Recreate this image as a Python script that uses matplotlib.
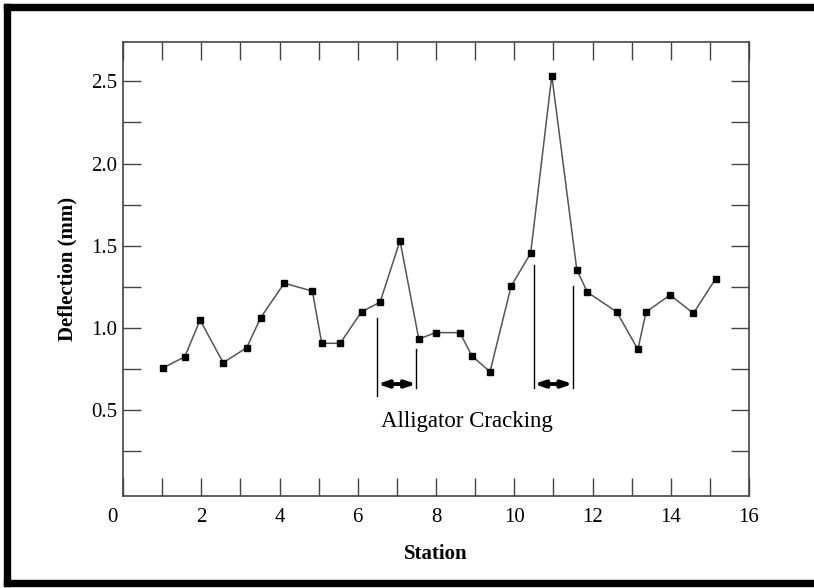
import matplotlib
matplotlib.use("Agg")
import matplotlib.pyplot as plt
import matplotlib.transforms as mtransforms
from matplotlib.patches import Rectangle
import numpy as np

# ---- data ----
station = [1.03, 1.58, 1.97, 2.56, 3.16, 3.52, 4.12, 4.84, 5.08, 5.55,
           6.10, 6.57, 7.08, 7.56, 7.99, 8.61, 8.92, 9.38, 9.92, 10.42,
           10.96, 11.60, 11.87, 12.62, 13.16, 13.37, 13.98, 14.58, 15.15]
deflection = [0.756, 0.823, 1.047, 0.787, 0.878, 1.061, 1.271, 1.223, 0.905, 0.905,
              1.098, 1.155, 1.530, 0.931, 0.970, 0.970, 0.827, 0.732, 1.253, 1.454,
              2.535, 1.352, 1.216, 1.096, 0.868, 1.096, 1.199, 1.088, 1.299]

# cracking zones: (start, end) in station units
zone_x = [(6.5, 7.5), (10.5, 11.5)]
zone_left_y = [(1.059, 0.584), (1.38, 0.632)]
zone_right_y = [(0.870, 0.632), (1.254, 0.632)]
arrow_y = 0.657
annot_text = "Alligator Cracking"
annot_pos = (8.79, 0.431)

xticks_major = [0, 2, 4, 6, 8, 10, 12, 14, 16]
xticks_minor = [1, 3, 5, 7, 9, 11, 13, 15]
yticks_major = [0.5, 1.0, 1.5, 2.0, 2.5]
yticks_minor = [0.25, 0.75, 1.25, 1.75, 2.25]

plt.rcParams['font.family'] = ['Liberation Serif', 'DejaVu Serif']

W, H = 814, 588
fig = plt.figure(figsize=(W / 100, H / 100), dpi=100)
ax = fig.add_axes([123 / W, 1 - 496 / H, (749 - 123) / W, (496 - 42) / H])

frame_col = '#444444'
ax.plot(station, deflection, color='#555555', lw=1.1, marker='s', ms=5,
        mfc='black', mec='black', zorder=3)

for (x0, x1), ly, ry in zip(zone_x, zone_left_y, zone_right_y):
    ax.plot([x0, x0], ly, color='black', lw=1.0)
    ax.plot([x1, x1], ry, color='black', lw=1.0)
    ax.annotate('', xy=(x1, arrow_y), xytext=(x0, arrow_y),
                arrowprops=dict(arrowstyle='<|-|>,head_length=0.6,head_width=0.2',
                                color='black', lw=2.8, shrinkA=0, shrinkB=0))

ax.text(annot_pos[0], annot_pos[1], annot_text, ha='center', va='center', fontsize=16.5)

ax.set_xlim(0, 16)
ax.set_ylim(-0.025, 2.74)
ax.set_xticks(xticks_major)
ax.set_xticks(xticks_minor, minor=True)
ax.set_yticks(yticks_major)
ax.set_yticks(yticks_minor, minor=True)
ax.set_xticklabels([str(v) for v in xticks_major])
ax.set_yticklabels([f"{v:.1f}" for v in yticks_major])

ax.tick_params(which='both', direction='in', length=13, width=1.0, color=frame_col,
               top=True, right=True, labelsize=15)
ax.tick_params(axis='x', which='both', pad=9)
ax.tick_params(axis='y', which='both', pad=4)
for s in ax.spines.values():
    s.set_color(frame_col)
    s.set_linewidth(1.2)

# first x label ("0") sits a bit left in the original
lbl0 = ax.get_xticklabels()[0]
lbl0.set_transform(lbl0.get_transform() + mtransforms.ScaledTranslation(-11 / 100, 0, fig.dpi_scale_trans))

ax.set_xlabel('Station', fontsize=15, fontweight='bold', labelpad=12)
ax.set_ylabel('Deflection (mm)', fontsize=15, fontweight='bold', labelpad=10)

# thick black border (top, left, bottom)
fig.patches.append(Rectangle((4 / W, 1 - 10 / H), 1 - 4 / W, 6 / H, transform=fig.transFigure,
                             color='black', zorder=10))
fig.patches.append(Rectangle((4 / W, 2 / H), 6 / W, 1 - 6 / H, transform=fig.transFigure,
                             color='black', zorder=10))
fig.patches.append(Rectangle((4 / W, 2 / H), 1 - 4 / W, 6 / H, transform=fig.transFigure,
                             color='black', zorder=10))

fig.savefig('out.png', dpi=100)
